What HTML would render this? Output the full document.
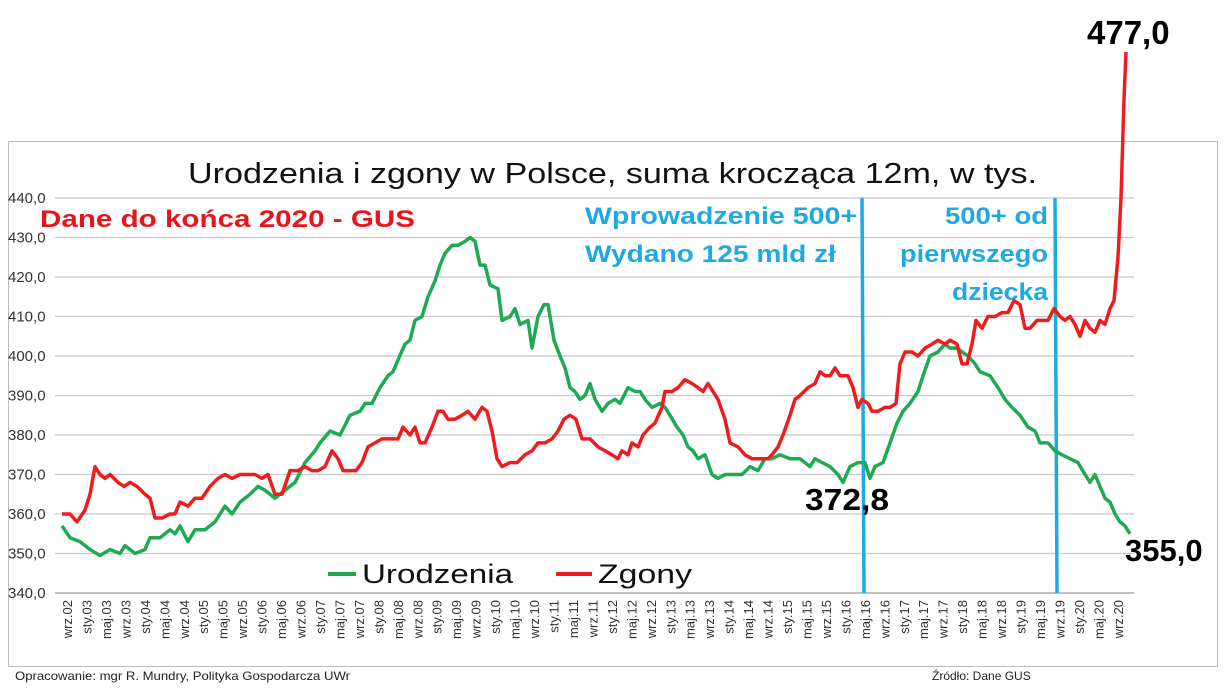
<!DOCTYPE html>
<html><head><meta charset="utf-8"><style>
body{margin:0;background:#fff;width:1224px;height:694px;overflow:hidden}
svg{display:block}
text{font-family:"Liberation Sans",sans-serif}
</style></head><body>
<svg id="s" width="1224" height="694" xmlns="http://www.w3.org/2000/svg">
<rect x="8.5" y="141.5" width="1209" height="525" fill="#fff" stroke="#bbb" stroke-width="1"/>
<g id="grid"></g>
<g id="xl"></g>
<text x="188" y="183" font-size="29" textLength="849" lengthAdjust="spacingAndGlyphs" fill="#111">Urodzenia i zgony w Polsce, suma krocząca 12m, w tys.</text>
<text x="40" y="227" font-size="24" font-weight="bold" fill="#e8141b" textLength="375" lengthAdjust="spacingAndGlyphs">Dane do końca 2020 - GUS</text>
<g font-size="24" font-weight="bold" fill="#1fa9e1">
<text x="585" y="224" textLength="272" lengthAdjust="spacingAndGlyphs">Wprowadzenie 500+</text>
<text x="585" y="262" textLength="251" lengthAdjust="spacingAndGlyphs">Wydano 125 mld zł</text>
<text x="945" y="224" textLength="103" lengthAdjust="spacingAndGlyphs">500+ od</text>
<text x="900" y="262" textLength="148" lengthAdjust="spacingAndGlyphs">pierwszego</text>
<text x="952" y="300" textLength="96" lengthAdjust="spacingAndGlyphs">dziecka</text>
</g>
<line x1="862" y1="198" x2="864" y2="593" stroke="#1fa9e1" stroke-width="3.5"/>
<line x1="1055" y1="198" x2="1057" y2="593" stroke="#1fa9e1" stroke-width="3.5"/>
<polyline id="g" fill="none" stroke="#1eaa52" stroke-width="3.5" stroke-linejoin="round"/>
<polyline id="r" fill="none" stroke="#ee1c1c" stroke-width="3.5" stroke-linejoin="round"/>
<g font-size="31" font-weight="bold" fill="#000">
<text x="805" y="510" textLength="84" lengthAdjust="spacingAndGlyphs">372,8</text>
<text x="1125" y="561">355,0</text>
<text x="1087" y="44" font-size="33">477,0</text>
</g>
<line x1="328" y1="574" x2="356" y2="574" stroke="#1eaa52" stroke-width="4"/>
<text x="362" y="583" font-size="27" fill="#111" textLength="151" lengthAdjust="spacingAndGlyphs">Urodzenia</text>
<line x1="556" y1="574" x2="592" y2="574" stroke="#ee1c1c" stroke-width="4"/>
<text x="598" y="583" font-size="27" fill="#111" textLength="94" lengthAdjust="spacingAndGlyphs">Zgony</text>
<text x="15" y="680" font-size="12" fill="#222" textLength="335" lengthAdjust="spacingAndGlyphs">Opracowanie: mgr R. Mundry, Polityka Gospodarcza UWr</text>
<text x="932" y="680" font-size="12" fill="#222">Źródło: Dane GUS</text>
</svg>
<script>
var NS="http://www.w3.org/2000/svg";
function Y(v){return 593-(v-340)*3.95;}
var grid=document.getElementById('grid');
for(var v=340;v<=440;v+=10){
 var l=document.createElementNS(NS,'line');l.setAttribute('x1',55);l.setAttribute('x2',1134);
 l.setAttribute('y1',Y(v));l.setAttribute('y2',Y(v));l.setAttribute('stroke',v==340?'#999':'#c8c8c8');l.setAttribute('stroke-width',1.2);grid.appendChild(l);
 var t=document.createElementNS(NS,'text');t.setAttribute('x',8);t.setAttribute('y',Y(v)+5);t.setAttribute('font-size',15);t.setAttribute('fill','#333');t.textContent=v+',0';grid.appendChild(t);
}
var xl=document.getElementById('xl');var m=['wrz','sty','maj'];var yr=2;
for(var i=0;i<55;i++){
 var mm=m[i%3];if(mm=='sty')yr++;
 var x=67+i*19.46;var t=document.createElementNS(NS,'text');
 t.setAttribute('transform','translate('+(x+5)+',600) rotate(-90)');t.setAttribute('text-anchor','end');t.setAttribute('font-size',13);t.setAttribute('fill','#333');
 t.textContent=mm+'.'+(yr<10?'0'+yr:yr);xl.appendChild(t);
}
var G=[62,357,70,354,80,353,90,351,100,349.5,110,351,120,350,125,352,135,350,145,351,150,354,160,354,170,356,175,355,180,357,188,353,195,356,205,356,215,358,225,362,232,360,240,363,250,365,258,367,265,366,275,364,285,366,295,368,305,373,315,376,320,378,330,381,340,380,350,385,360,386,365,388,372,388,380,392,388,395,393,396,398,399,405,403,410,404,415,409,422,410,428,415,435,419,440,423,445,426,452,428,458,428,465,429,470,430,475,429,480,423,485,423,490,418,498,417,502,409,510,410,515,412,520,408,528,409,532,402,538,410,544,413,548,413,554,404,560,400,565,397,570,392,575,391,580,389,585,390,590,393,595,389,602,386,608,388,615,389,620,388,628,392,635,391,640,391,645,389,652,387,660,388,665,387,670,385,677,382,683,380,688,377,693,376,698,374,705,375,712,370,718,369,725,370,735,370,742,370,750,372,758,371,765,374,772,374,780,375,790,374,800,374,810,372,815,374,822,373,830,372,838,370,843,368,850,372,858,373,865,373,870,369,875,372,883,373,890,378,897,383,903,386,910,388,918,391,923,395,930,400,938,401,945,403,950,402,957,402,962,401,968,400,975,398,980,396,990,395,998,392,1005,389,1012,387,1020,385,1028,382,1035,381,1040,378,1048,378,1055,376,1062,375,1070,374,1078,373,1085,370,1090,368,1095,370,1100,367,1105,364,1110,363,1115,360,1120,358,1125,357,1130,355];
var R=[62,360,70,360,77,358,85,361,90,365,95,372,100,370,105,369,110,370,118,368,124,367,130,368,137,367,145,365,150,364,155,359,162,359,170,360,175,360,180,363,188,362,195,364,202,364,210,367,218,369,225,370,232,369,240,370,248,370,255,370,262,369,268,370,275,365,282,365,290,371,298,371,305,372,312,371,318,371,325,372,332,376,338,374,343,371,350,371,356,371,362,373,368,377,375,378,382,379,390,379,398,379,403,382,410,380,415,382,420,378,425,378,432,382,438,386,443,386,448,384,455,384,462,385,468,386,475,384,482,387,487,386,492,381,497,374,502,372,510,373,517,373,525,375,532,376,538,378,545,378,552,379,558,381,564,384,570,385,576,384,582,379,590,379,598,377,605,376,612,375,618,374,622,376,628,375,632,378,638,377,643,380,650,382,655,383,662,387,665,391,672,391,678,392,685,394,692,393,698,392,703,391,708,393,713,391,718,389,725,384,730,378,738,377,745,375,752,374,760,374,768,374,772,375,778,377,783,380,790,385,795,389,800,390,808,392,815,393,820,396,825,395,830,395,835,397,840,395,848,395,853,392,858,387,862,389,868,388,872,386,878,386,885,387,890,387,896,388,900,398,905,401,912,401,918,400,925,402,932,403,938,404,945,403,950,404,957,403,962,398,967,398,972,403,976,409,982,407,988,410,995,410,1002,411,1008,411,1014,414,1020,413,1025,407,1030,407,1037,409,1042,409,1048,409,1054,412,1060,410,1065,409,1070,410,1075,408,1080,405,1085,409,1090,407,1095,406,1100,409,1105,408,1110,412,1114,414,1118,425,1121,440,1124,465,1126,477];
function pts(a){var s='';for(var i=0;i<a.length;i+=2)s+=a[i]+','+Y(a[i+1]).toFixed(1)+' ';return s;}
document.getElementById('g').setAttribute('points',pts(G));
document.getElementById('r').setAttribute('points',pts(R));
</script>
</body></html>
